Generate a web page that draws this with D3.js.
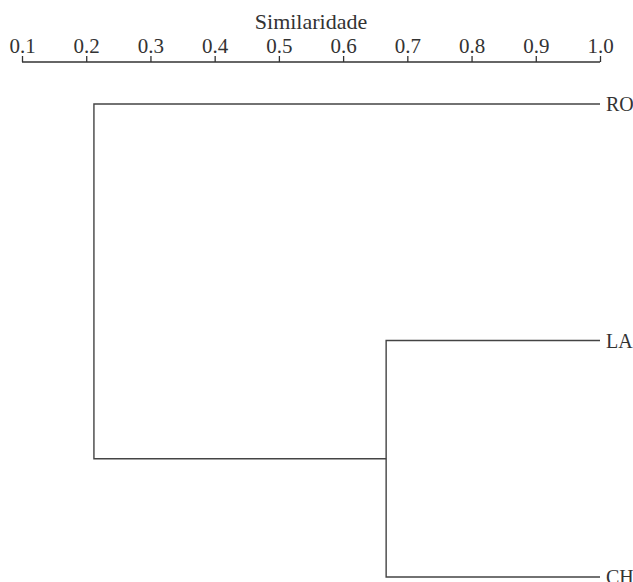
<!DOCTYPE html>
<html lang="pt">
<meta charset="utf-8">
<head>
    <style>
        body { margin: 0; background: #fff; }
        text { font-family: "Liberation Serif", serif; fill: #333; }
        .axis path, .axis line { fill: none; stroke: #333; stroke-width: 1.3px; }
        .axis text { font-size: 21px; }
        .link { fill: none; stroke: #444; stroke-width: 1.4px; }
    </style>
    <title></title>
</head>
<body>
<script src="https://d3js.org/d3.v7.min.js"></script>
<script>

    // leaves, top to bottom
    const leaves = ["RO", "LA", "CH"];
    // merges: join left + right at a similarity level
    const mergeLeft = ["LA", "RO"];
    const mergeRight = ["CH", "LA+CH"];
    const mergeSim = [0.667, 0.212];
    const tickValues = [0.1, 0.2, 0.3, 0.4, 0.5, 0.6, 0.7, 0.8, 0.9, 1.0];

    const width = 633, height = 582;

    const x = d3.scaleLinear().domain([0.1, 1.0]).range([22, 600]);
    const y = d3.scalePoint().domain(leaves).range([104, 577]);

    const svg = d3.select("body").append("svg")
        .attr("width", width)
        .attr("height", height);

    svg.append("g")
        .attr("class", "axis")
        .attr("transform", "translate(0,62)")
        .call(d3.axisTop(x).tickValues(tickValues).tickFormat(d3.format(".1f")).tickSizeOuter(0).tickSize(6).tickPadding(3))
        .call(g => g.select(".domain").attr("d", "M" + x(0.1) + ",0H" + x(1.0)));

    svg.append("text")
        .attr("x", (x(0.1) + x(1.0)) / 2)
        .attr("y", 29)
        .attr("text-anchor", "middle")
        .style("font-size", "22px")
        .text("Similaridade");

    // node positions: leaves sit at similarity 1.0
    const nodes = {};
    leaves.forEach(function (d) {
        nodes[d] = {x: x(1.0), y: y(d)};
    });

    mergeSim.forEach(function (s, i) {
        const a = nodes[mergeLeft[i]], b = nodes[mergeRight[i]];
        const mx = x(s);
        svg.append("path")
            .attr("class", "link")
            .attr("d", "M" + a.x + "," + a.y + "H" + mx + "V" + b.y + "H" + b.x);
        nodes[mergeLeft[i] + "+" + mergeRight[i]] = {x: mx, y: (a.y + b.y) / 2};
    });

    svg.selectAll(".leaf")
        .data(leaves)
        .enter().append("text")
        .attr("class", "leaf")
        .attr("x", x(1.0) + 6)
        .attr("y", function (d) { return y(d); })
        .attr("dy", "0.35em")
        .style("font-size", "20px")
        .text(function (d) { return d; });

</script>
</body>
</html>
